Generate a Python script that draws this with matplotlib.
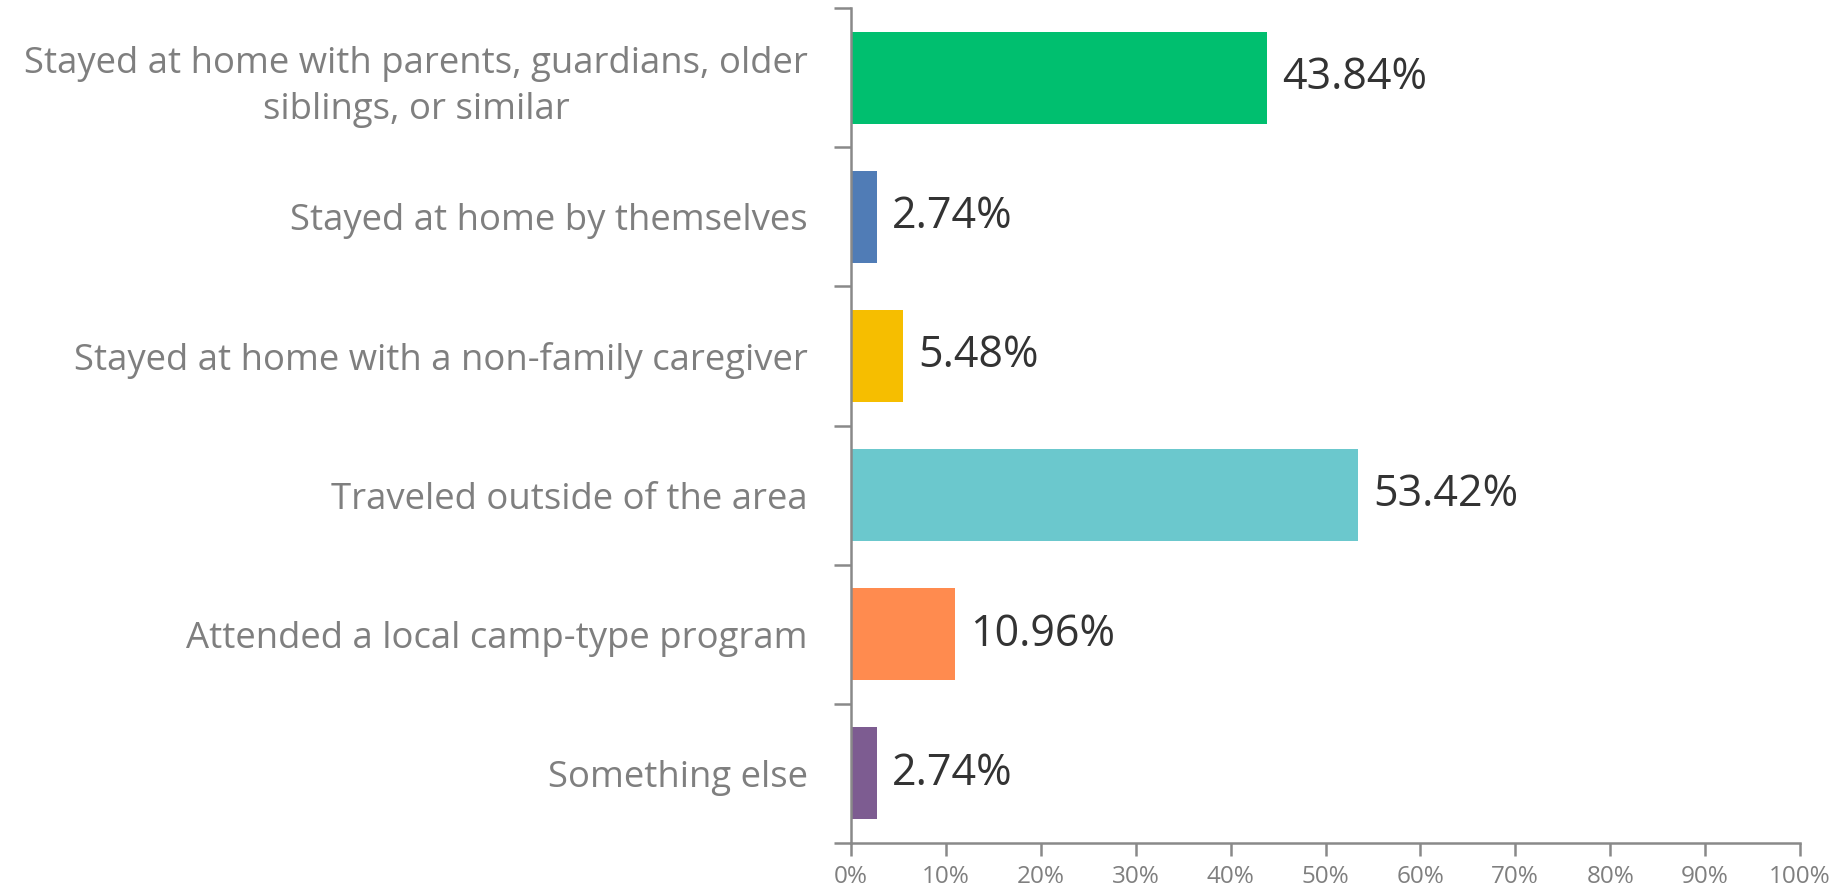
import matplotlib
matplotlib.use("Agg")
import matplotlib.pyplot as plt
from matplotlib.ticker import FixedLocator, FuncFormatter

categories = [
    "Stayed at home with parents, guardians, older\nsiblings, or similar",
    "Stayed at home by themselves",
    "Stayed at home with a non-family caregiver",
    "Traveled outside of the area",
    "Attended a local camp-type program",
    "Something else",
]
values = [43.84, 2.74, 5.48, 53.42, 10.96, 2.74]
colors = ["#00BF6F", "#507CB6", "#F6BE00", "#6BC8CD", "#FF8B4F", "#7D5C91"]
xticks = [0, 10, 20, 30, 40, 50, 60, 70, 80, 90, 100]

plt.rcParams['font.family'] = ['Open Sans', 'DejaVu Sans']

fig = plt.figure(figsize=(18.35, 8.9), dpi=100)
ax = fig.add_axes([851/1835, 1 - 843/890, (1800-851)/1835, (843-8)/890])

n = len(categories)
ypos = list(range(n))
ax.barh(ypos, values, height=0.66, color=colors, zorder=2)
ax.set_ylim(n - 0.5, -0.5)
ax.set_xlim(0, 100)

for y, v in zip(ypos, values):
    ax.text(v + 1.6, y, f"{v:.2f}%", va="center", ha="left",
            fontsize=31, color="#333333")

ax.set_yticks(ypos)
ax.set_yticklabels(categories, fontsize=26.3, color="#7F7F7F", ha="right",
                   multialignment="center", linespacing=1.38)
ax.tick_params(axis="y", length=0, pad=31)
ax.yaxis.set_minor_locator(FixedLocator([i - 0.5 for i in range(n + 1)]))
ax.tick_params(axis="y", which="minor", length=12, width=1.8, color="#898989", direction="out")

ax.set_xticks(xticks)
ax.xaxis.set_major_formatter(FuncFormatter(lambda x, p: f"{int(x)}%"))
ax.tick_params(axis="x", length=9, width=1.8, color="#898989", labelsize=17.5,
               labelcolor="#7F7F7F", pad=7, direction="out")

for s in ["top", "right"]:
    ax.spines[s].set_visible(False)
for s in ["left", "bottom"]:
    ax.spines[s].set_color("#898989")
    ax.spines[s].set_linewidth(1.8)

fig.savefig("out.png", dpi=100)
